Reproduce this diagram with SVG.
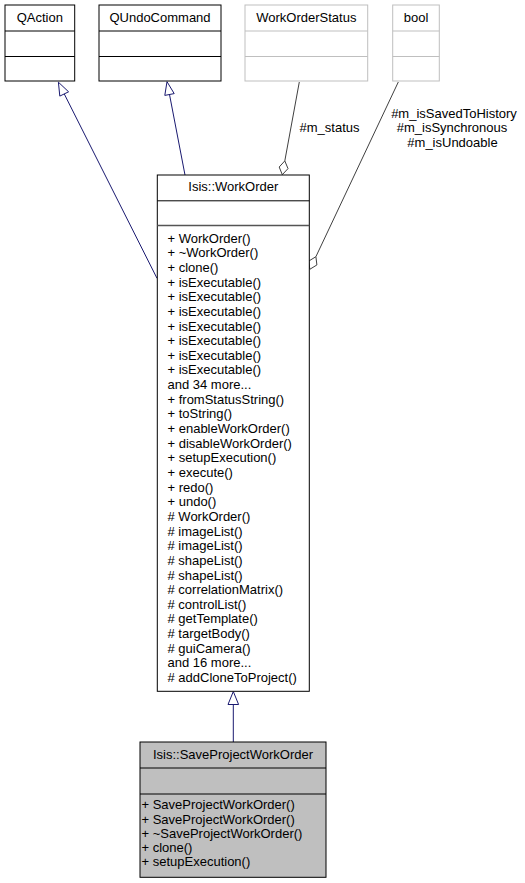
<svg xmlns="http://www.w3.org/2000/svg" width="525" height="883" viewBox="0 0 525 883">
<style>
text{font-family:"Liberation Sans",Arial,Helvetica,sans-serif;font-size:13px;fill:#000}
.t{text-anchor:middle}
.box{fill:#fff;stroke:#000;stroke-width:1}
.gbox{fill:#fff;stroke:#bfbfbf;stroke-width:1}
.cur{fill:#bfbfbf;stroke:#000;stroke-width:1}
.div{stroke:#000;stroke-width:1}
.gdiv{stroke:#bfbfbf;stroke-width:1}
.inh{stroke:#191970;stroke-width:1;fill:none}
.inhh{stroke:#191970;stroke-width:1;fill:#fff}
.agg{stroke:#404040;stroke-width:1;fill:none}
.aggh{stroke:#404040;stroke-width:1;fill:#fff}
</style>
<rect width="525" height="883" fill="#fff"/>
<g id="edges">
<line class="inh" x1="64.2" y1="93.8" x2="157" y2="278.3"/>
<polygon class="inhh" points="58.4,82.2 68.6,91.8 59.8,96.1"/>
<line class="inh" x1="169.5" y1="94.5" x2="185" y2="175"/>
<polygon class="inhh" points="167,81.7 174.2,93.6 164.8,95.4"/>
<line class="agg" x1="299.3" y1="82" x2="284.8" y2="160.9"/>
<polygon class="aggh" points="282.3,174.7 279.2,167 284.8,160.9 288,168.6"/>
<line class="agg" x1="398.3" y1="82" x2="315.9" y2="256.7"/>
<polygon class="aggh" points="309.8,269.3 308.8,261.05 315.9,256.7 316.9,264.95"/>
<line class="inh" x1="233.3" y1="704.5" x2="233.3" y2="742"/>
<polygon class="inhh" points="233.3,691.5 238.6,704.5 228,704.5"/>
<text class="t" x="329.5" y="132">#m_status</text>
<text class="t" x="454" y="117.8">#m_isSavedToHistory</text>
<text class="t" x="452" y="132.2">#m_isSynchronous</text>
<text class="t" x="452.5" y="146.8">#m_isUndoable</text>
</g>
<g id="QAction">
<rect class="box" x="5" y="5" width="69.7" height="76"/>
<line class="div" x1="5" y1="31" x2="74.7" y2="31"/>
<line class="div" x1="5" y1="56.5" x2="74.7" y2="56.5"/>
<text class="t" x="39.8" y="21.5">QAction</text>
</g>
<g id="QUndoCommand">
<rect class="box" x="99" y="5" width="122" height="76"/>
<line class="div" x1="99" y1="31" x2="221" y2="31"/>
<line class="div" x1="99" y1="56.5" x2="221" y2="56.5"/>
<text class="t" x="160" y="21.5">QUndoCommand</text>
</g>
<g id="WorkOrderStatus">
<rect class="gbox" x="245" y="5" width="122.7" height="76"/>
<line class="gdiv" x1="245" y1="31" x2="367.7" y2="31"/>
<line class="gdiv" x1="245" y1="56.5" x2="367.7" y2="56.5"/>
<text class="t" x="306.3" y="21.5">WorkOrderStatus</text>
</g>
<g id="bool">
<rect class="gbox" x="392.7" y="5" width="46.6" height="76"/>
<line class="gdiv" x1="392.7" y1="31" x2="439.3" y2="31"/>
<line class="gdiv" x1="392.7" y1="56.5" x2="439.3" y2="56.5"/>
<text class="t" x="416" y="21.5">bool</text>
</g>
<g id="WorkOrder">
<rect class="box" x="157.3" y="175" width="152" height="516.3"/>
<line class="div" x1="157.3" y1="200.8" x2="309.3" y2="200.8"/>
<line x1="157.3" y1="225.5" x2="309.3" y2="225.5" stroke="#555" stroke-width="1.6"/>
<text class="t" x="233.3" y="190.7">Isis::WorkOrder</text>
<text x="167.5" y="242.6"><tspan x="167.5">+ WorkOrder()</tspan><tspan x="167.5" dy="14.65">+ ~WorkOrder()</tspan><tspan x="167.5" dy="14.65">+ clone()</tspan><tspan x="167.5" dy="14.65">+ isExecutable()</tspan><tspan x="167.5" dy="14.65">+ isExecutable()</tspan><tspan x="167.5" dy="14.65">+ isExecutable()</tspan><tspan x="167.5" dy="14.65">+ isExecutable()</tspan><tspan x="167.5" dy="14.65">+ isExecutable()</tspan><tspan x="167.5" dy="14.65">+ isExecutable()</tspan><tspan x="167.5" dy="14.65">+ isExecutable()</tspan><tspan x="167.5" dy="14.65">and 34 more...</tspan><tspan x="167.5" dy="14.65">+ fromStatusString()</tspan><tspan x="167.5" dy="14.65">+ toString()</tspan><tspan x="167.5" dy="14.65">+ enableWorkOrder()</tspan><tspan x="167.5" dy="14.65">+ disableWorkOrder()</tspan><tspan x="167.5" dy="14.65">+ setupExecution()</tspan><tspan x="167.5" dy="14.65">+ execute()</tspan><tspan x="167.5" dy="14.65">+ redo()</tspan><tspan x="167.5" dy="14.65">+ undo()</tspan><tspan x="167.5" dy="14.65"># WorkOrder()</tspan><tspan x="167.5" dy="14.65"># imageList()</tspan><tspan x="167.5" dy="14.65"># imageList()</tspan><tspan x="167.5" dy="14.65"># shapeList()</tspan><tspan x="167.5" dy="14.65"># shapeList()</tspan><tspan x="167.5" dy="14.65"># correlationMatrix()</tspan><tspan x="167.5" dy="14.65"># controlList()</tspan><tspan x="167.5" dy="14.65"># getTemplate()</tspan><tspan x="167.5" dy="14.65"># targetBody()</tspan><tspan x="167.5" dy="14.65"># guiCamera()</tspan><tspan x="167.5" dy="14.65">and 16 more...</tspan><tspan x="167.5" dy="14.65"># addCloneToProject()</tspan></text>
</g>
<g id="SaveProjectWorkOrder">
<rect class="cur" x="140" y="742" width="186" height="135.3"/>
<line class="div" x1="140" y1="768" x2="326" y2="768"/>
<line class="div" x1="140" y1="794" x2="326" y2="794"/>
<text class="t" x="233" y="759">Isis::SaveProjectWorkOrder</text>
<text x="141.5" y="809.3"><tspan x="141.5">+ SaveProjectWorkOrder()</tspan><tspan x="141.5" dy="14.2">+ SaveProjectWorkOrder()</tspan><tspan x="141.5" dy="14.2">+ ~SaveProjectWorkOrder()</tspan><tspan x="141.5" dy="14.2">+ clone()</tspan><tspan x="141.5" dy="14.2">+ setupExecution()</tspan></text>
</g>
</svg>
